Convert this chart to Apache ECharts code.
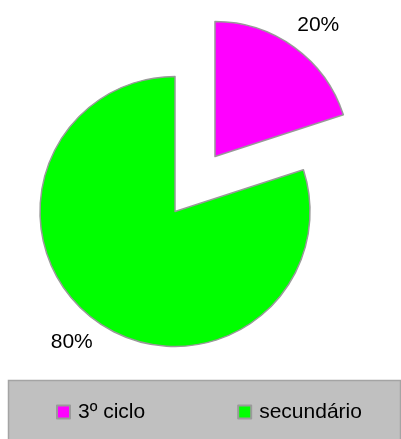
<!DOCTYPE html>
<html>
<head>
<meta charset="utf-8">
<script src="https://cdn.jsdelivr.net/npm/echarts@6/dist/echarts.min.js"></script>
<style>
  html, body { margin: 0; padding: 0; background: #ffffff; }
  #chart { width: 401px; height: 439px; }
</style>
</head>
<body>
<div id="chart"></div>
<script>
// Share of students by level
var categories = ['3º ciclo', 'secundário'];
var shares = [20, 80];
var sliceColors = ['#ff00ff', '#00ff00'];

var FONT = "'Liberation Sans', Arial, sans-serif";

var pieData = categories.map(function (name, i) {
  return {
    name: name,
    value: shares[i],
    selected: true,
    itemStyle: { color: sliceColors[i] }
  };
});

var chart = echarts.init(document.getElementById('chart'), null, { renderer: 'canvas' });

chart.setOption({
  animation: false,
  backgroundColor: '#ffffff',
  graphic: [{
    type: 'rect',
    z: 0,
    shape: { x: 8.5, y: 380.5, width: 392, height: 60 },
    style: { fill: '#c0c0c0', stroke: '#a4a4a4', lineWidth: 1.5 }
  }],
  legend: {
    z: 5,
    left: 56,
    top: 401,
    padding: 0,
    itemGap: 92,
    itemWidth: 13,
    itemHeight: 13,
    icon: 'rect',
    selectedMode: false,
    itemStyle: { borderColor: '#9a9a9a', borderWidth: 2 },
    textStyle: {
      fontFamily: FONT,
      fontSize: 21,
      color: '#000000',
      lineHeight: 22,
      padding: [0, 0, 0, 3]
    },
    data: categories
  },
  series: [{
    type: 'pie',
    center: [195, 184],
    radius: 135,
    startAngle: 90,
    clockwise: true,
    selectedMode: 'multiple',
    selectedOffset: 34,
    avoidLabelOverlap: false,
    itemStyle: { borderColor: '#999999', borderWidth: 1.5 },
    label: {
      show: true,
      position: 'outside',
      formatter: '{d}%',
      fontFamily: FONT,
      fontSize: 21,
      color: '#000000',
      distanceToLabelLine: -13
    },
    labelLine: { show: false, length: 27, length2: 0 },
    emphasis: { disabled: true },
    select: {
      itemStyle: { borderColor: '#999999', borderWidth: 1.5 },
      label: { color: '#000000' }
    },
    data: pieData
  }]
});
</script>
</body>
</html>
